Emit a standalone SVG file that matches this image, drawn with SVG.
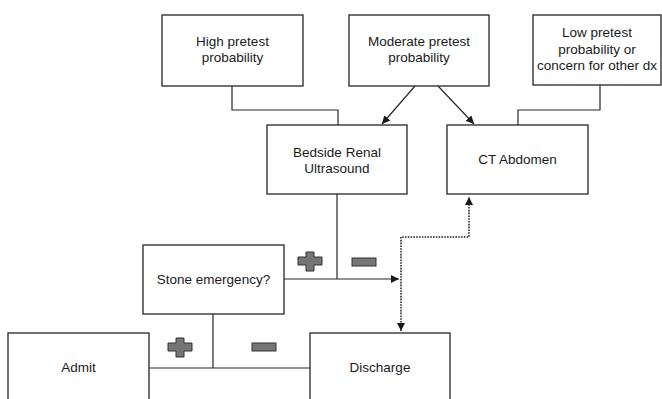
<svg xmlns="http://www.w3.org/2000/svg" width="662" height="399" viewBox="0 0 662 399">
<style>
.box{fill:#fff;stroke:#262626;stroke-width:1.3}
.t{font-family:"Liberation Sans",Arial,sans-serif;font-size:13.5px;fill:#1a1a1a;text-anchor:middle}
.ln{fill:none;stroke:#262626;stroke-width:1.2}
.dot{fill:none;stroke:#262626;stroke-width:1.6;stroke-dasharray:1.6 1.2}
.sg{fill:#757575;stroke:#333;stroke-width:1}
</style>
<defs>
<marker id="ah" viewBox="0 0 10 10" refX="10" refY="5" markerWidth="8" markerHeight="8" markerUnits="userSpaceOnUse" orient="auto-start-reverse">
<path d="M0,0 L10,5 L0,10 z" fill="#1a1a1a"/>
</marker>
</defs>
<rect width="662" height="399" fill="#fff"/>
<g id="connectors">
<polyline class="ln" points="232,86 232,110 338,110 338,125"/>
<polyline class="ln" points="600,85 600,110 518,110 518,125"/>
<line class="ln" x1="415" y1="86" x2="382" y2="124" marker-end="url(#ah)"/>
<line class="ln" x1="438" y1="86" x2="474" y2="124" marker-end="url(#ah)"/>
<line class="ln" x1="337" y1="194" x2="337" y2="279"/>
<line class="ln" x1="284" y1="279" x2="399" y2="279" marker-end="url(#ah)"/>
<polyline class="dot" points="401,331 401,237 469,237 469,197" marker-start="url(#ah)" marker-end="url(#ah)"/>
<line class="ln" x1="213" y1="314" x2="213" y2="368"/>
<line class="ln" x1="149" y1="368" x2="310" y2="368"/>
<path class="sg" d="M306,252 h8 v5 h8 v8 h-8 v6 h-8 v-6 h-8 v-8 h8 z"/>
<rect class="sg" x="352" y="258" width="24" height="8"/>
<path class="sg" d="M176,338 h8 v5 h8 v8 h-8 v6 h-8 v-6 h-8 v-8 h8 z"/>
<rect class="sg" x="252" y="343" width="24" height="8"/>
</g>
<g id="high">
<rect class="box" x="162" y="15" width="141" height="71"/>
<text class="t" x="232.5" y="46">High pretest</text>
<text class="t" x="232.5" y="62">probability</text>
</g>
<g id="moderate">
<rect class="box" x="349" y="15" width="140" height="71"/>
<text class="t" x="419" y="46">Moderate pretest</text>
<text class="t" x="419" y="62">probability</text>
</g>
<g id="low">
<rect class="box" x="533" y="15" width="128" height="70"/>
<text class="t" x="597" y="37">Low pretest</text>
<text class="t" x="597" y="53.5">probability or</text>
<text class="t" x="597" y="70">concern for other dx</text>
</g>
<g id="bedside">
<rect class="box" x="267" y="125" width="140" height="69"/>
<text class="t" x="337" y="157">Bedside Renal</text>
<text class="t" x="337" y="173">Ultrasound</text>
</g>
<g id="ct">
<rect class="box" x="447" y="125" width="141" height="69"/>
<text class="t" x="517.5" y="164">CT Abdomen</text>
</g>
<g id="stone">
<rect class="box" x="143" y="245" width="141" height="69"/>
<text class="t" x="213.5" y="284">Stone emergency?</text>
</g>
<g id="admit">
<rect class="box" x="8" y="333" width="141" height="70"/>
<text class="t" x="78.5" y="372">Admit</text>
</g>
<g id="discharge">
<rect class="box" x="310" y="333" width="140" height="70"/>
<text class="t" x="380" y="372">Discharge</text>
</g>
</svg>
